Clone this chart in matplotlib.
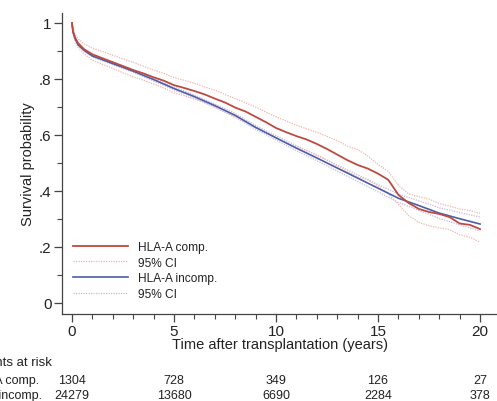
import matplotlib
matplotlib.use("Agg")
import matplotlib.pyplot as plt
import matplotlib.transforms as mtransforms
from matplotlib.ticker import MultipleLocator, FixedLocator

plt.rcParams['font.family'] = ['Liberation Sans', 'DejaVu Sans']

# Kaplan-Meier estimates, time in years
t_comp = [0, 0.05, 0.15, 0.3, 0.6, 1, 1.5, 2, 2.5, 3, 3.5, 4, 4.5, 5, 5.5, 6, 6.5, 7, 7.5,
          8, 8.5, 9, 9.5, 10, 10.5, 11, 11.5, 12, 12.5, 13, 13.5, 14, 14.5, 15, 15.5,
          16, 16.5, 17, 17.5, 18, 18.5, 19, 19.5, 20]
s_comp = [1.0, 0.97, 0.948, 0.928, 0.906, 0.888, 0.874, 0.86, 0.846, 0.832, 0.82, 0.806,
          0.794, 0.778, 0.768, 0.757, 0.745, 0.73, 0.716, 0.698, 0.684, 0.665, 0.646,
          0.625, 0.61, 0.596, 0.584, 0.568, 0.55, 0.53, 0.51, 0.493, 0.48, 0.462, 0.44,
          0.386, 0.357, 0.336, 0.325, 0.318, 0.307, 0.284, 0.279, 0.264]
lo_comp = [1.0, 0.96, 0.935, 0.912, 0.89, 0.867, 0.852, 0.838, 0.822, 0.808, 0.796, 0.782,
           0.768, 0.75, 0.74, 0.728, 0.716, 0.70, 0.684, 0.665, 0.648, 0.63, 0.61,
           0.588, 0.573, 0.558, 0.544, 0.528, 0.51, 0.49, 0.47, 0.45, 0.44, 0.418, 0.39,
           0.352, 0.312, 0.288, 0.276, 0.268, 0.262, 0.244, 0.235, 0.217]
hi_comp = [1.0, 0.98, 0.96, 0.944, 0.926, 0.91, 0.898, 0.885, 0.872, 0.86, 0.846, 0.832,
           0.82, 0.805, 0.795, 0.785, 0.772, 0.76, 0.745, 0.73, 0.715, 0.70, 0.682,
           0.665, 0.65, 0.635, 0.622, 0.61, 0.595, 0.58, 0.56, 0.548, 0.525, 0.495, 0.47,
           0.42, 0.39, 0.38, 0.371, 0.355, 0.346, 0.336, 0.33, 0.32]

t_incomp = [0, 0.05, 0.15, 0.3, 0.6, 1, 2, 3, 4, 5, 6, 7, 8, 9, 10, 11, 12, 13, 14, 15,
            16, 17, 18, 19, 20]
s_incomp = [1.0, 0.968, 0.944, 0.922, 0.902, 0.882, 0.855, 0.828, 0.798, 0.766, 0.737,
            0.705, 0.67, 0.627, 0.59, 0.553, 0.518, 0.482, 0.446, 0.41, 0.374, 0.348,
            0.321, 0.301, 0.282]
ci_half_incomp = [0, 0.002, 0.003, 0.003, 0.003, 0.003, 0.004, 0.004, 0.005, 0.005, 0.006,
                  0.006, 0.007, 0.007, 0.008, 0.009, 0.010, 0.011, 0.012, 0.013, 0.015,
                  0.017, 0.019, 0.022, 0.025]
lo_incomp = [s - h for s, h in zip(s_incomp, ci_half_incomp)]
hi_incomp = [s + h for s, h in zip(s_incomp, ci_half_incomp)]

# numbers at risk
risk_times = [0, 5, 10, 15, 20]
risk_comp = ["1304", "728", "349", "126", "27"]
risk_incomp = ["24279", "13680", "6690", "2284", "378"]

red = "#bd4a3f"
blue = "#4c5ea8"
red_ci = "#f2b4ac"
blue_ci = "#c4b8de"

W, H = 497, 402
fig = plt.figure(figsize=(W / 100, H / 100), dpi=100)
ax = fig.add_axes([62 / W, (H - 315) / H, (W - 62) / W, (315 - 14) / H])

ax.plot(t_comp, s_comp, color=red, lw=1.3, label="HLA-A comp.", zorder=4)
ax.plot(t_comp, lo_comp, color=red_ci, lw=0.9, ls=(0, (1, 1)), label="95% CI", zorder=3)
ax.plot(t_incomp, s_incomp, color=blue, lw=1.2, label="HLA-A incomp.", zorder=3)
ax.plot(t_incomp, lo_incomp, color=blue_ci, lw=0.9, ls=(0, (1, 1)), label="95% CI", zorder=2)
ax.plot(t_comp, hi_comp, color=red_ci, lw=0.9, ls=(0, (1, 1)), zorder=3)
ax.plot(t_incomp, hi_incomp, color=blue_ci, lw=0.9, ls=(0, (1, 1)), zorder=2)

ax.set_xlim(-0.49, 20.83)
ax.set_ylim(-0.0393, 1.0357)

for side in ["top", "right"]:
    ax.spines[side].set_visible(False)
for side in ["left", "bottom"]:
    ax.spines[side].set_color("#444444")
    ax.spines[side].set_linewidth(0.9)

ax.xaxis.set_major_locator(FixedLocator([0, 5, 10, 15, 20]))
ax.xaxis.set_minor_locator(MultipleLocator(1))
ax.yaxis.set_major_locator(FixedLocator([0, 0.2, 0.4, 0.6, 0.8, 1.0]))
ax.yaxis.set_minor_locator(MultipleLocator(0.1))
ax.set_yticklabels(["0", ".2", ".4", ".6", ".8", "1"])
ax.tick_params(which="major", length=6, width=0.9, color="#444444",
               labelsize=11, labelcolor="#222222", pad=1.5)
ax.tick_params(which="minor", length=3.5, width=0.8, color="#444444")

ax.set_xlabel("Time after transplantation (years)", fontsize=10.5, color="#222222", labelpad=-1)
ax.set_ylabel("Survival probability", fontsize=10.5, color="#222222", labelpad=3)

ax.legend(loc="upper left", bbox_to_anchor=(73 / W, 1 - 242 / H),
          bbox_transform=fig.transFigure, frameon=False, fontsize=8.6,
          handlelength=4.6, handletextpad=0.8, labelspacing=0.3,
          borderpad=0, borderaxespad=0, labelcolor="#222222")

# numbers at risk table under the axis
tr = mtransforms.blended_transform_factory(ax.transData, fig.transFigure)
fig.text(52 / W, 1 - 363 / H, "Patients at risk", ha="right", va="center",
         fontsize=9.5, color="#222222")
fig.text(39 / W, 1 - 381 / H, "HLA-A comp.", ha="right", va="center",
         fontsize=9, color="#222222")
fig.text(42 / W, 1 - 396 / H, "HLA-A incomp.", ha="right", va="center",
         fontsize=9, color="#222222")
for t, a, b in zip(risk_times, risk_comp, risk_incomp):
    ax.text(t, 1 - 381 / H, a, transform=tr, ha="center", va="center",
            fontsize=9, color="#222222", clip_on=False)
    ax.text(t, 1 - 396 / H, b, transform=tr, ha="center", va="center",
            fontsize=9, color="#222222", clip_on=False)

fig.savefig("out.png", dpi=100)
